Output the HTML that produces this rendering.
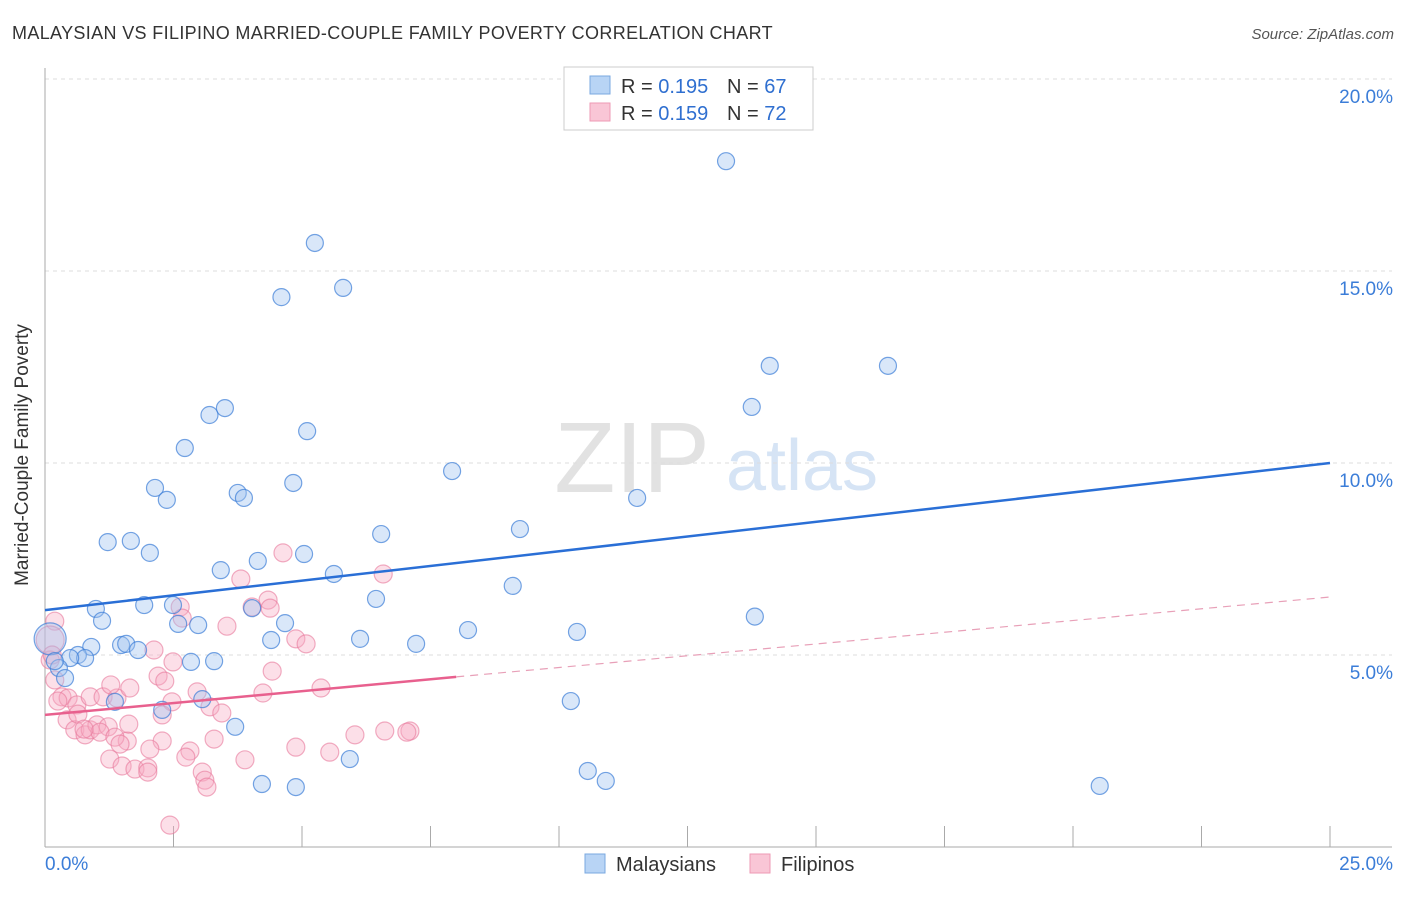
<!DOCTYPE html>
<html><head><meta charset="utf-8"><style>
body{margin:0;background:#fff;font-family:"Liberation Sans",sans-serif;}
svg text{font-family:"Liberation Sans",sans-serif;}
</style></head><body>
<svg id="chart" width="1406" height="892" xmlns="http://www.w3.org/2000/svg">
<text x="12" y="39" font-size="18" fill="#333" letter-spacing="0.35">MALAYSIAN VS FILIPINO MARRIED-COUPLE FAMILY POVERTY CORRELATION CHART</text>
<text x="1394" y="39" font-size="15" fill="#555" text-anchor="end" font-style="italic">Source: ZipAtlas.com</text>
<text x="632" y="492" font-size="100" fill="#e2e2e2" font-family="Liberation Serif" text-anchor="middle">ZIP</text>
<text x="802" y="490" font-size="72" fill="#d6e4f5" text-anchor="middle">atlas</text>
<g id="grid"></g><g id="axes"></g><g id="pts"></g><g id="trend"></g>
<text x="28" y="455" font-size="19" fill="#333" text-anchor="middle" transform="rotate(-90 28 455)">Married-Couple Family Poverty</text>
<g>
<rect x="564" y="67" width="249" height="63" fill="#fff" stroke="#ccc"/>
<rect x="590" y="76" width="20" height="18" fill="#b8d4f5" stroke="#7aa8e0"/>
<rect x="590" y="103" width="20" height="18" fill="#f9c6d6" stroke="#ee9ab4"/>
<text x="621" y="93" font-size="20" fill="#333">R = <tspan fill="#2f6fd0">0.195</tspan></text>
<text x="727" y="93" font-size="20" fill="#333">N = <tspan fill="#2f6fd0">67</tspan></text>
<text x="621" y="120" font-size="20" fill="#333">R = <tspan fill="#2f6fd0">0.159</tspan></text>
<text x="727" y="120" font-size="20" fill="#333">N = <tspan fill="#2f6fd0">72</tspan></text>
</g>
<g>
<rect x="585" y="854" width="20" height="19" fill="#b8d4f5" stroke="#7aa8e0"/>
<text x="616" y="871" font-size="20" fill="#333">Malaysians</text>
<rect x="750" y="854" width="20" height="19" fill="#f9c6d6" stroke="#ee9ab4"/>
<text x="781" y="871" font-size="20" fill="#333">Filipinos</text>
</g>
</svg>
<script>
const xTicks=[0,2.5,5,7.5,10,12.5,15,17.5,20,22.5,25];
const yTicks=[5,10,15,20];
const yTickLabels=["5.0%","10.0%","15.0%","20.0%"];
const malX=[13.25,5.25,4.6,5.8,14.1,16.4,13.75,3.5,3.2,5.1,2.72,7.92,4.83,2.14,3.75,3.87,2.37,11.52,9.24,6.54,1.22,1.67,2.04,5.04,4.14,3.42,5.62,9.1,6.44,0.99,1.93,2.49,4.03,1.11,13.81,2.59,2.98,4.67,8.23,10.35,4.4,6.13,1.48,1.58,1.81,0.9,7.22,0.64,0.78,0.49,2.84,3.29,0.27,0.39,3.06,1.36,10.23,2.28,3.7,5.93,10.56,10.91,4.22,4.88,20.52,0.1,0.19];
const malY=[17.86,15.73,14.32,14.56,12.53,12.53,11.46,11.43,11.25,10.83,10.39,9.79,9.48,9.35,9.22,9.09,9.04,9.09,8.28,8.15,7.94,7.97,7.66,7.63,7.45,7.21,7.11,6.8,6.46,6.2,6.3,6.3,6.22,5.89,6.0,5.81,5.78,5.83,5.65,5.6,5.39,5.42,5.26,5.29,5.13,5.21,5.29,5.0,4.92,4.92,4.82,4.84,4.66,4.4,3.85,3.78,3.8,3.57,3.13,2.29,1.98,1.72,1.64,1.56,1.59,5.42,4.84];
const filX=[0.19,0.1,0.1,0.19,0.33,0.45,0.62,0.43,0.58,0.78,0.88,1.01,0.88,1.13,1.4,1.28,1.65,2.12,2.2,2.33,2.47,2.28,2.63,2.67,2.49,2.96,3.54,3.81,4.03,4.34,4.38,4.88,5.08,4.63,6.58,5.37,4.42,4.24,3.21,3.44,3.29,2.82,2.74,2.28,2.04,1.6,1.63,1.23,1.07,1.36,1.46,1.26,1.5,1.75,2.0,2.0,3.06,3.11,3.15,3.89,4.88,5.54,6.03,6.61,7.1,7.04,2.43,0.14,0.25,0.64,0.76];
const filY=[5.88,5.39,4.87,4.35,3.91,3.88,3.7,3.31,3.05,2.92,3.05,3.18,3.91,3.91,3.88,4.22,4.14,5.13,4.45,4.32,3.78,3.44,6.25,5.96,4.82,4.04,5.75,6.98,6.25,6.43,6.22,5.42,5.29,7.66,7.11,4.14,4.58,4.01,3.65,3.49,2.81,2.5,2.34,2.76,2.55,2.76,3.2,3.13,2.99,2.86,2.68,2.29,2.11,2.03,2.06,1.95,1.95,1.74,1.56,2.27,2.6,2.47,2.92,3.02,3.02,2.99,0.57,5.0,3.8,3.46,3.07];
const malTrend=[[0,6.17],[25,10.0]];
const filTrendSolid=[[0,3.44],[8.0,4.43]];
const filTrendDash=[[8.0,4.43],[25,6.51]];
const X0=45,X1=1330,Y0=847,PY=38.4;
const sx=v=>X0+(X1-X0)*v/25, sy=v=>Y0-PY*v;
const NS="http://www.w3.org/2000/svg";
function mk(tag,attrs,parent){const e=document.createElementNS(NS,tag);for(const k in attrs)e.setAttribute(k,attrs[k]);document.getElementById(parent).appendChild(e);return e;}
yTicks.forEach((t,i)=>{
 const g=mk('line',{x1:X0,x2:1392,y1:sy(t),y2:sy(t),stroke:'#ddd','stroke-dasharray':'4,4'},'grid');
 
 
 const l=mk('text',{x:1393,y:sy(t)+24,'font-size':19,fill:'#3b7dd8','text-anchor':'end'},'axes');
 l.textContent=yTickLabels[i];
 
 
});
const ax=mk('line',{x1:X0,x2:X0,y1:68,y2:Y0,stroke:'#aaa'},'axes');


const bx=mk('line',{x1:X0,x2:1392,y1:Y0,y2:Y0,stroke:'#aaa'},'axes');


xTicks.forEach(t=>{
 const tk=mk('line',{x1:sx(t),x2:sx(t),y1:826,y2:Y0,stroke:'#aaa'},'axes');
 
 
});
const xl0=mk('text',{x:45,y:870,'font-size':19,fill:'#3b7dd8'},'axes');xl0.textContent='0.0%';


const xl1=mk('text',{x:1393,y:870,'font-size':19,fill:'#3b7dd8','text-anchor':'end'},'axes');xl1.textContent='25.0%';


filX.forEach((v,i)=>{
 const c=mk('circle',{cx:sx(v),cy:sy(filY[i]),r:i==1?14:9,fill:'rgba(246,170,195,0.38)',stroke:'rgba(232,120,155,0.6)','stroke-width':1.2},'pts');
 
 
});
malX.forEach((v,i)=>{
 const c=mk('circle',{cx:sx(v),cy:sy(malY[i]),r:i==65?16:8.5,fill:'rgba(160,196,240,0.4)',stroke:'rgba(60,125,215,0.7)','stroke-width':1.2},'pts');
 
 
});
function line(p,st,dash,w,name){const l=mk('line',{x1:sx(p[0][0]),y1:sy(p[0][1]),x2:sx(p[1][0]),y2:sy(p[1][1]),stroke:st,'stroke-width':w},'trend');if(dash)l.setAttribute('stroke-dasharray',dash);
 
 }
line(malTrend,'#2a6fd6',null,2.5,'malaysian-trendline');
line(filTrendSolid,'#e8608e',null,2.5,'filipino-trendline');
line(filTrendDash,'#e8a0b8','8,6',1.2,'filipino-trendline-extension');
</script>
</body></html>
